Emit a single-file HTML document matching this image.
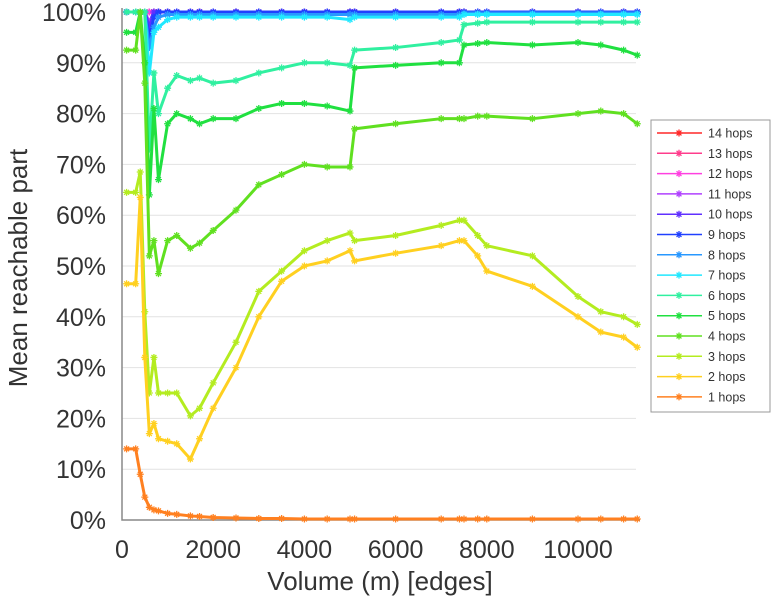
<!DOCTYPE html>
<html><head><meta charset="utf-8"><style>
html,body{margin:0;padding:0;background:#fff;width:775px;height:600px;overflow:hidden}
svg{display:block;font-family:"Liberation Sans",sans-serif}
</style></head><body>
<svg id="chart" width="775" height="600" viewBox="0 0 775 600" xmlns="http://www.w3.org/2000/svg"></svg>
<script>
const volumes=[100,300,400,500,600,700,800,1000,1200,1500,1700,2000,2500,3000,3500,4000,4500,5000,5100,6000,7000,7400,7500,7800,8000,9000,10000,10500,11000,11300];
const hops1=[14,14,9,4.5,2.5,2,1.8,1.3,1.1,0.8,0.7,0.5,0.4,0.3,0.3,0.2,0.2,0.2,0.2,0.2,0.2,0.2,0.2,0.2,0.2,0.2,0.2,0.2,0.2,0.2];
const hops2=[46.5,46.5,63.5,32,17,19,16,15.5,15,12,16,22,30,40,47,50,51,53,51,52.5,54,55,55,52,49,46,40,37,36,34];
const hops3=[64.5,64.5,68.5,41,25,32,25,25,25,20.5,22,27,35,45,49,53,55,56.5,55,56,58,59,59,56,54,52,44,41,40,38.5];
const hops4=[92.5,92.5,100,86,52,55,48.5,55,56,53.5,54.5,57,61,66,68,70,69.5,69.5,77,78,79,79,79,79.5,79.5,79,80,80.5,80,78];
const hops5=[96,96,100,90,64,81,67,78,80,79,78,79,79,81,82,82,81.5,80.5,89,89.5,90,90,93.5,93.8,94,93.5,94,93.5,92.5,91.5];
const hops6=[100,100,100,100,73,88,80,85,87.5,86.5,87,86,86.5,88,89,90,90,89.5,92.5,93,94,94.5,97.5,97.8,98,98,98,98,98,98];
const hops7=[100,100,100,100,88,96,97,98.5,99,99,99,99,99,99,99,99,99,98.5,99,99,99,99,99.5,99.5,99.5,99.5,99.5,99.5,99.5,99.5];
const hops8=[100,100,100,100,93,97,99,99.5,99.5,99.5,99.5,99.5,99.5,99.5,99.5,99.5,99.5,99.5,99.5,99.5,99.5,99.5,99.8,99.8,99.8,99.8,99.8,99.8,99.8,99.8];
const hops9=[100,100,100,100,95,99,100,100,100,100,100,100,100,100,100,100,100,100,100,100,100,100,100,100,100,100,100,100,100,100];
const hops10=[100,100,100,100,97,100,100,100,100,100,100,100,100,100,100,100,100,100,100,100,100,100,100,100,100,100,100,100,100,100];
const hops11=[100,100,100,100,98,100,100,100,100,100,100,100,100,100,100,100,100,100,100,100,100,100,100,100,100,100,100,100,100,100];
const hops12=[100,100,100,100,100,100,100,100,100,100,100,100,100,100,100,100,100,100,100,100,100,100,100,100,100,100,100,100,100,100];
const hops13=[100,100,100,100,100,100,100,100,100,100,100,100,100,100,100,100,100,100,100,100,100,100,100,100,100,100,100,100,100,100];
const hops14=[100,100,100,100,100,100,100,100,100,100,100,100,100,100,100,100,100,100,100,100,100,100,100,100,100,100,100,100,100,100];
const seriesNames=["14 hops","13 hops","12 hops","11 hops","10 hops","9 hops","8 hops","7 hops","6 hops","5 hops","4 hops","3 hops","2 hops","1 hops"];
const xTicks=[0,2000,4000,6000,8000,10000];
const yTicks=[0,10,20,30,40,50,60,70,80,90,100];

const allSeries=[hops14,hops13,hops12,hops11,hops10,hops9,hops8,hops7,hops6,hops5,hops4,hops3,hops2,hops1];
const colors=["#ff2828","#ff3c8c","#ff40e0","#b040ff","#6030ff","#2040ff","#2898ff","#20e8ff","#30f0a0","#20e040","#60e020","#b4ec20","#ffd020","#ff8020"];
const NS="http://www.w3.org/2000/svg";
const svg=document.getElementById('chart');
const X0=122,X1=636,Y0=520,Y1=12;
const xs=v=>X0+v*0.0456;
const ys=v=>Y0-(v/100)*(Y0-Y1);
function mk(tag,attrs,parent){const e=document.createElementNS(NS,tag);for(const k in attrs)e.setAttribute(k,attrs[k]);(parent||svg).appendChild(e);return e;}

yTicks.forEach(t=>{
  const y=ys(t);
  if(t>0){const g=mk('line',{x1:X0,x2:X1,y1:y,y2:y,stroke:'#e2e2e2','stroke-width':1});
  
  }
  const l=mk('text',{x:106,y:y+9,'text-anchor':'end','font-size':25,fill:'#333'});
  l.textContent=t+'%';
  
  
});
xTicks.forEach(t=>{
  const x=xs(t);
  const tk=mk('line',{x1:x,x2:x,y1:Y0,y2:Y0-4,stroke:'#888'});
  
  
  const l=mk('text',{x:x,y:558,'text-anchor':'middle','font-size':25,fill:'#333'});
  l.textContent=t;
  
  
});
const ax=mk('path',{d:`M${X0} ${Y1-4} V${Y0} H${X1+4}`,fill:'none',stroke:'#888','stroke-width':1.5});



function star(g,x,y,c,s){
  mk('path',{d:`M${x-s} ${y}H${x+s}M${x} ${y-s}V${y+s}M${x-s*0.7} ${y-s*0.7}L${x+s*0.7} ${y+s*0.7}M${x-s*0.7} ${y+s*0.7}L${x+s*0.7} ${y-s*0.7}`,stroke:c,'stroke-width':1.3,fill:'none'},g);
}
allSeries.forEach((vals,i)=>{
  const g=mk('g',{});
  
  
  const pts=vals.map((v,j)=>xs(volumes[j])+','+ys(v)).join(' ');
  mk('polyline',{points:pts,fill:'none',stroke:colors[i],'stroke-width':3,'stroke-linejoin':'round'},g);
  vals.forEach((v,j)=>star(g,xs(volumes[j]),ys(v),colors[i],3.5));
});

const lg=mk('g',{});


mk('rect',{x:651,y:120,width:119,height:292,fill:'#fff',stroke:'#999','stroke-width':1},lg);
seriesNames.forEach((n,i)=>{
  const y=133+i*20.3;
  const e=mk('g',{},lg);
  
  
  mk('line',{x1:657,x2:702,y1:y,y2:y,stroke:colors[i],'stroke-width':1.5},e);
  star(e,679,y,colors[i],3.5);
  const t=mk('text',{x:708,y:y+4.5,'font-size':12.5,fill:'#333'},e);
  t.textContent=n;
});

const xt=mk('text',{x:380,y:590,'text-anchor':'middle','font-size':26,fill:'#333'});
xt.textContent='Volume (m) [edges]';


const yt=mk('text',{x:0,y:0,'text-anchor':'middle','font-size':26,fill:'#333',transform:'translate(27,268) rotate(-90)'});
yt.textContent='Mean reachable part';


</script>
</body></html>
